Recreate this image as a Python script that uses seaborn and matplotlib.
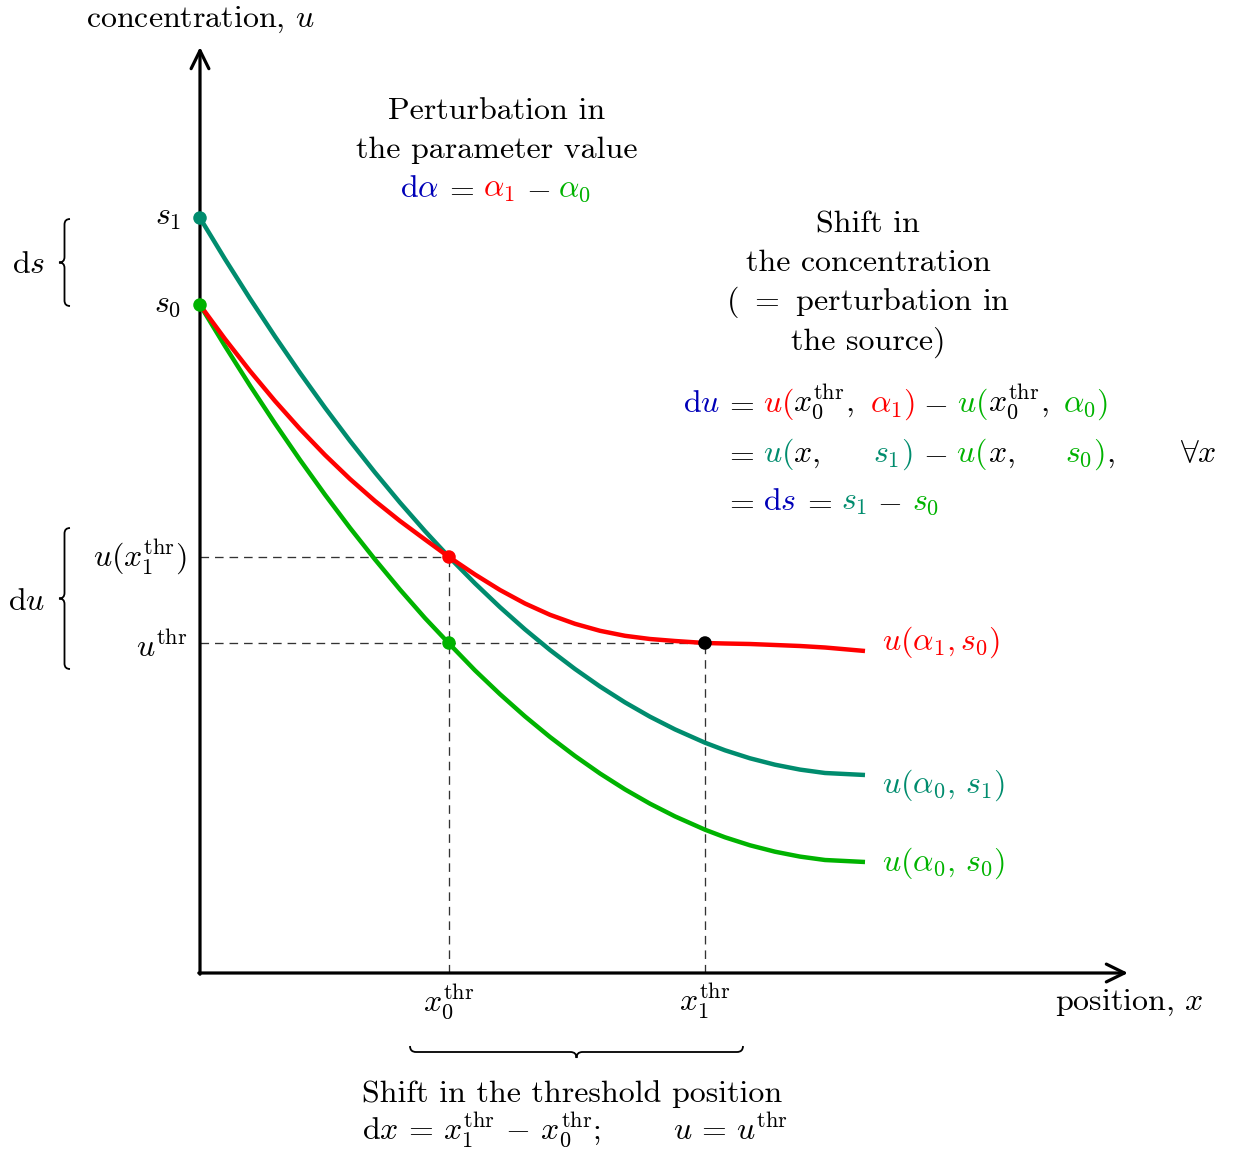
import numpy as np
import matplotlib
matplotlib.use("Agg")
import matplotlib.pyplot as plt
from matplotlib.path import Path
from matplotlib.patches import PathPatch
import seaborn as sns

sns.set_style("white")
plt.rcParams['font.family'] = ['cmr10']
plt.rcParams['mathtext.fontset'] = 'cm'
plt.rcParams['axes.formatter.use_mathtext'] = True

# values (position x, concentration u)
x_pos = [0.0, 0.25, 0.5, 0.75, 1.0, 1.25, 1.5, 1.75, 2.0, 2.25, 2.49, 2.75, 3.0, 3.25,
         3.5, 3.75, 4.0, 4.25, 4.5, 4.75, 5.05, 5.25, 5.5, 5.75, 6.0, 6.25, 6.65]
u_a0_s1 = [7.55, 7.139, 6.744, 6.365, 6.001, 5.653, 5.321, 5.005, 4.704, 4.419, 4.16,
           3.896, 3.658, 3.436, 3.23, 3.04, 2.865, 2.706, 2.563, 2.436, 2.303, 2.227,
           2.147, 2.083, 2.034, 2.00, 1.98]
u_a0_s0 = [6.68, 6.269, 5.874, 5.495, 5.131, 4.783, 4.451, 4.135, 3.834, 3.549, 3.295,
           3.026, 2.788, 2.566, 2.36, 2.17, 1.995, 1.836, 1.693, 1.566, 1.433, 1.357,
           1.277, 1.213, 1.164, 1.13, 1.11]
u_a1_s0 = [6.68, 6.34, 6.02, 5.72, 5.44, 5.18, 4.94, 4.72, 4.52, 4.335, 4.16,
           3.985, 3.83, 3.695, 3.582, 3.492, 3.422, 3.372, 3.34, 3.32, 3.30, 3.295,
           3.29, 3.28, 3.27, 3.255, 3.22]

s0, s1 = 6.68, 7.55
x0_thr, x1_thr = 2.49, 5.05
u_thr, u_x1_thr = 3.30, 4.16
x_axis_end, u_axis_end = 9.28, 9.26

RED = "#ff0000"
TEAL = "#008c6e"
GREEN = "#00b300"
BLUE = "#0000b8"
FS = 23


def X(px):
    return (px - 200) / 100


def Y(py):
    return (973 - py) / 100


def put(ax, px, py, s, color="black", ha="left"):
    ax.text(X(px), Y(py), s, color=color, fontsize=FS, ha=ha, va="baseline")


def brace(ax, start, end, amp, lw=1.3):
    s = np.array(start, float)
    e = np.array(end, float)
    L = np.linalg.norm(e - s)
    u = (e - s) / L
    n = np.array([u[1], -u[0]])
    h = amp / 2
    local = [(0, 0), (0, h), (h, h), (L / 2 - h, h), (L / 2, h), (L / 2, 2 * h),
             (L / 2, h), (L / 2 + h, h), (L - h, h), (L, h), (L, 0)]
    codes = [Path.MOVETO, Path.CURVE3, Path.CURVE3, Path.LINETO, Path.CURVE3, Path.CURVE3,
             Path.CURVE3, Path.CURVE3, Path.LINETO, Path.CURVE3, Path.CURVE3]
    verts = [s + t * u + d * n for t, d in local]
    ax.add_patch(PathPatch(Path(verts, codes), fc="none", ec="black", lw=lw))


fig = plt.figure(figsize=(12.33, 11.54), dpi=100)
ax = fig.add_axes([0, 0, 1, 1])
ax.set_xlim(X(0), X(1233))
ax.set_ylim(Y(1154), Y(0))
ax.axis("off")

# axes arrows
arrow = dict(arrowstyle="->,head_length=0.65,head_width=0.32", lw=2.3, color="black",
             shrinkA=0, shrinkB=0, mutation_scale=20)
ax.annotate("", xy=(x_axis_end, 0), xytext=(-0.012, 0), arrowprops=arrow)
ax.annotate("", xy=(0, u_axis_end), xytext=(0, -0.012), arrowprops=arrow)

# dashed guides
dash = dict(color="#333333", lw=0.95, linestyle=(0, (6.5, 4.5)), zorder=1)
ax.plot([0, x0_thr], [u_x1_thr, u_x1_thr], **dash)
ax.plot([0, x1_thr], [u_thr, u_thr], **dash)
ax.plot([x0_thr, x0_thr], [0, u_x1_thr], **dash)
ax.plot([x1_thr, x1_thr], [0, u_thr], **dash)

# curves
for ys, col in [(u_a0_s0, GREEN), (u_a0_s1, TEAL), (u_a1_s0, RED)]:
    sns.lineplot(x=x_pos, y=ys, color=col, lw=3.2, ax=ax, zorder=3,
                 solid_capstyle="butt", solid_joinstyle="round")

# points
sns.scatterplot(x=[0, 0, x0_thr, x0_thr, x1_thr], y=[s1, s0, u_x1_thr, u_thr, u_thr],
                hue=["a", "b", "c", "d", "e"],
                palette=[TEAL, GREEN, RED, GREEN, "black"],
                s=95, linewidth=0, legend=False, ax=ax, zorder=4)

# axis labels
put(ax, 200, 27, r"concentration, $u$", ha="center")
put(ax, 1203, 1010, r"position, $x$", ha="right")

# y tick labels
put(ax, 181, 225, r"$s_1$", ha="right")
put(ax, 181, 312, r"$s_0$", ha="right")
put(ax, 187, 567, r"$u(x_1^{\mathrm{thr}})$", ha="right")
put(ax, 187, 657, r"$u^{\mathrm{thr}}$", ha="right")

# x tick labels
put(ax, 449, 1012, r"$x_0^{\mathrm{thr}}$", ha="center")
put(ax, 705, 1012, r"$x_1^{\mathrm{thr}}$", ha="center")

# braces
brace(ax, (X(70), Y(219)), (X(70), Y(306)), 0.11)
put(ax, 12, 273, r"$\mathrm{d}s$")
brace(ax, (X(70), Y(528)), (X(70), Y(669)), 0.11)
put(ax, 8, 610, r"$\mathrm{d}u$")
brace(ax, (X(410), Y(1046)), (X(743), Y(1046)), 0.12)

# bottom annotation
put(ax, 362, 1102, "Shift in the threshold position")
put(ax, 362, 1140, r"$\mathrm{d}x\,=\,x_1^{\mathrm{thr}}\,-\,x_0^{\mathrm{thr}};$")
put(ax, 673, 1140, r"$u\,=\,u^{\mathrm{thr}}$")

# parameter perturbation
put(ax, 497, 119, "Perturbation in", ha="center")
put(ax, 497, 158, "the parameter value", ha="center")
put(ax, 400, 197, r"$\mathrm{d}\alpha$", BLUE)
put(ax, 459.5, 197, r"$=$", ha="center")
put(ax, 483, 197, r"$\alpha_1$", RED)
put(ax, 538, 197, r"$-$", ha="center")
put(ax, 558, 197, r"$\alpha_0$", GREEN)

# shift in concentration
put(ax, 868, 232, "Shift in", ha="center")
put(ax, 868, 271, "the concentration", ha="center")
put(ax, 868, 310, r"( $=$ perturbation in", ha="center")
put(ax, 868, 350, "the source)", ha="center")

put(ax, 683, 412, r"$\mathrm{d}u$", BLUE)
put(ax, 739.5, 412, r"$=$", ha="center")
put(ax, 763, 412, r"$u($", RED)
put(ax, 793, 412, r"$x_0^{\mathrm{thr}},$")
put(ax, 870, 412, r"$\alpha_1)$", RED)
put(ax, 935.5, 412, r"$-$", ha="center")
put(ax, 957, 412, r"$u($", GREEN)
put(ax, 988, 412, r"$x_0^{\mathrm{thr}},$")
put(ax, 1063, 412, r"$\alpha_0)$", GREEN)

put(ax, 739.5, 462, r"$=$", ha="center")
put(ax, 763, 462, r"$u($", TEAL)
put(ax, 793, 462, r"$x,$")
put(ax, 873, 462, r"$s_1)$", TEAL)
put(ax, 935.5, 462, r"$-$", ha="center")
put(ax, 956, 462, r"$u($", GREEN)
put(ax, 988, 462, r"$x,$")
put(ax, 1065, 462, r"$s_0)$", GREEN)
put(ax, 1106, 462, r"$,$")
put(ax, 1180, 462, r"$\forall x$")

put(ax, 739.5, 510, r"$=$", ha="center")
put(ax, 763, 510, r"$\mathrm{d}s$", BLUE)
put(ax, 817.5, 510, r"$=$", ha="center")
put(ax, 841, 510, r"$s_1$", TEAL)
put(ax, 889.5, 510, r"$-$", ha="center")
put(ax, 912, 510, r"$s_0$", GREEN)

# curve labels
put(ax, 882, 650, r"$u(\alpha_1, s_0)$", RED)
put(ax, 882, 793, r"$u(\alpha_0,\, s_1)$", TEAL)
put(ax, 882, 871, r"$u(\alpha_0,\, s_0)$", GREEN)

fig.savefig("out.png", dpi=100)
